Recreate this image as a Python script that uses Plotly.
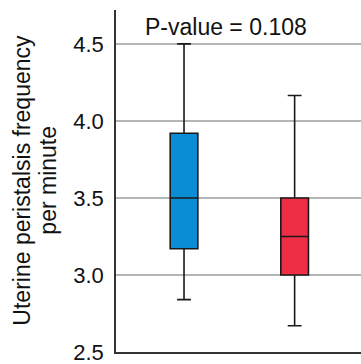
import plotly.graph_objects as go

groups = ["Group 1", "Group 2"]
q1 = [3.17, 3.0]
median = [3.5, 3.25]
q3 = [3.92, 3.5]
lowerfence = [2.84, 2.67]
upperfence = [4.5, 4.165]
colors = ["#0A8DD5", "#EE2D46"]
yticks = [2.5, 3.0, 3.5, 4.0, 4.5]
title_text = "P-value = 0.108"
ytitle_lines = ["Uterine peristalsis frequency", "per minute"]

fig = go.Figure()
for i, g in enumerate(groups):
    fig.add_trace(go.Box(
        x=[g], q1=[q1[i]], median=[median[i]], q3=[q3[i]],
        lowerfence=[lowerfence[i]], upperfence=[upperfence[i]],
        fillcolor=colors[i], line=dict(color="#1a1a1a", width=1.6),
        width=0.25, whiskerwidth=0.5, boxpoints=False, showlegend=False,
        hoverinfo="skip",
    ))

font = "Liberation Sans, Arial, sans-serif"
L, W = 116, 245
ann = [dict(text=title_text, xref="paper", yref="paper", x=0.447, y=0.95,
            xanchor="center", yanchor="middle", showarrow=False,
            font=dict(size=23, family=font, color="#111"))]
for xpix, line in zip([22, 48], ytitle_lines):
    ann.append(dict(text=line, xref="paper", yref="paper", x=(xpix - L) / W, y=0.501,
                    xanchor="center", yanchor="middle", showarrow=False, textangle=-90,
                    font=dict(size=23, family=font, color="#111")))

fig.update_layout(
    width=361, height=364,
    margin=dict(l=L, r=0, t=10, b=12),
    paper_bgcolor="white", plot_bgcolor="white",
    font=dict(family=font, color="#111", size=21),
    xaxis=dict(range=[-0.615, 1.6], showticklabels=False, showgrid=False,
               zeroline=False, showline=True, linecolor="#333", linewidth=1.5,
               ticks=""),
    yaxis=dict(range=[2.5, 4.72], tickvals=yticks,
               ticktext=[f"{v:.1f}" for v in yticks],
               showgrid=True, gridcolor="#b5b5b5", gridwidth=1.5,
               zeroline=False, showline=True, linecolor="#333", linewidth=1.5,
               ticks="", ticklabelstandoff=6, ticklabeloverflow="allow",
               tickfont=dict(size=22)),
    annotations=ann,
)
fig.write_html("out.html")
